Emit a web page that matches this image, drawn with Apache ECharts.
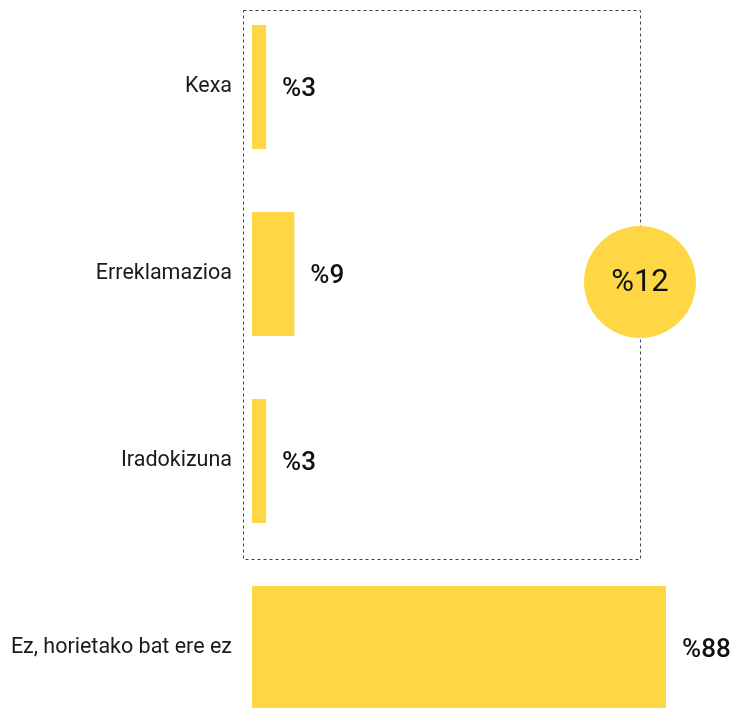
<!DOCTYPE html>
<html>
<head>
<meta charset="utf-8">
<style>
  html, body { margin: 0; padding: 0; background: #fff; }
  #chart { width: 736px; height: 708px; }
</style>
<script src="https://cdn.jsdelivr.net/npm/echarts@6/dist/echarts.min.js"></script>
</head>
<body>
<div id="chart"></div>
<script>
// Response categories (top to bottom) and their shares in percent
const categories = ['Kexa', 'Erreklamazioa', 'Iradokizuna', 'Ez, horietako bat ere ez'];
const shares = [3, 9, 3, 88];
// Combined share of the three grouped answers
const groupedShare = 12;

const yellow = '#FFD744';
const chart = echarts.init(document.getElementById('chart'));

chart.setOption({
  animation: false,
  textStyle: { fontFamily: 'Roboto' },
  grid: {
    left: 252, top: -6.5, width: 470.5, height: 748,
    containLabel: false,
    outerBoundsMode: 'none'
  },
  xAxis: {
    type: 'value', min: 0, max: 100,
    show: false
  },
  yAxis: {
    type: 'category',
    data: categories,
    inverse: true,
    axisLine: { show: false },
    axisTick: { show: false },
    splitLine: { show: false },
    axisLabel: {
      color: '#1a1a1a', fontSize: 21.5, margin: 20, fontFamily: 'Roboto',
      verticalAlign: 'middle', lineHeight: 30, padding: [4, 0, 0, 0]
    }
  },
  series: [{
    type: 'bar',
    data: shares,
    barWidth: 124,
    itemStyle: { color: yellow },
    label: {
      show: true,
      position: 'right',
      distance: 16,
      offset: [0, 2],
      formatter: p => '%' + p.value,
      color: '#111',
      fontSize: 26,
      fontWeight: 500,
      fontFamily: 'Roboto'
    }
  }],
  graphic: [
    {
      type: 'rect',
      shape: { x: 243.5, y: 10.5, width: 397, height: 549 },
      style: { fill: 'none', stroke: '#444', lineWidth: 1, lineDash: [3, 3] },
      z: 1
    },
    {
      type: 'circle',
      shape: { cx: 640, cy: 282, r: 56 },
      style: { fill: yellow },
      z: 10
    },
    {
      type: 'text',
      x: 640, y: 283,
      style: {
        text: '%' + groupedShare,
        fill: '#111',
        fontSize: 31,
        fontFamily: 'Roboto',
        align: 'center',
        verticalAlign: 'middle'
      },
      z: 11
    }
  ]
});
</script>
</body>
</html>
